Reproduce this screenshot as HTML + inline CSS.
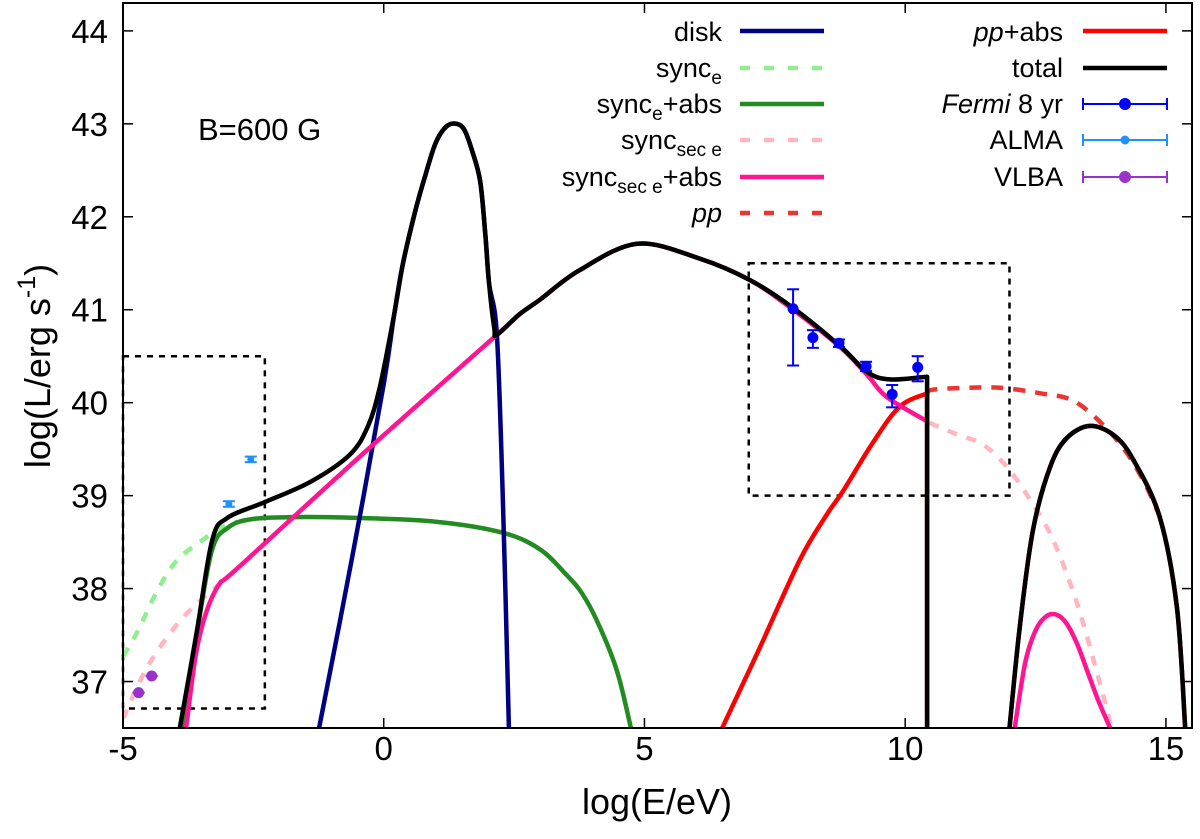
<!DOCTYPE html>
<html><head><meta charset="utf-8"><style>
html,body{margin:0;padding:0;background:#fff;}
svg{display:block;font-family:"Liberation Sans",Arial,sans-serif;}
</style></head><body>
<svg id="chart" width="1200" height="839" viewBox="0 0 1200 839" xmlns="http://www.w3.org/2000/svg" style="position:absolute;left:0;top:0">
<g id="grid"></g>
<g id="series"></g>
<g id="points"></g>
<g id="axes"></g>
</svg>
<script>
const xTicks=[-5,0,5,10,15];
const yTicks=[37,38,39,40,41,42,43,44];
const diskX=[-1.24,-0.6,0,0.2,0.37,0.6,0.81,1.0,1.2,1.4,1.55,1.7,1.85,1.95,2.02,2.17,2.29,2.40];
const diskY=[36.5,38.35,40.2,40.95,41.5,42.05,42.47,42.8,42.97,43.0,42.93,42.7,42.38,41.8,41.28,40.73,38.87,36.5];
const syncEX=[-5,-4.73,-4.33,-3.97,-3.53,-3.14,-2.8];
const syncEY=[37.27,37.53,37.99,38.3,38.5,38.65,38.72];
const syncEAbsX=[-3.85,-3.6,-3.3,-3.0,-2.5,-1.5,-0.5,1.0,2.29,3.0,3.5,3.8,4.1,4.47,4.74];
const syncEAbsY=[36.5,37.45,38.4,38.65,38.75,38.77,38.76,38.72,38.6,38.42,38.15,37.95,37.64,37.12,36.5];
const syncSecX=[-5,-4.54,-3.97,-3.5,-3.15,-2.8,-0.4,2.17,2.6,3.0,3.74,4.86,6.06,7.02,7.85,8.75,9.27,9.65,10.42,10.99,11.49,11.95,12.39,12.83,13.29,13.73,13.96];
const syncSecY=[36.6,37.15,37.61,37.88,38.05,38.22,39.45,40.73,40.95,41.11,41.42,41.71,41.55,41.32,41.0,40.6,40.3,40.06,39.8,39.66,39.55,39.31,38.96,38.53,37.85,36.99,36.5];
const syncSecAbsX=[-3.79,-3.6,-3.4,-3.15,-2.8,-0.4,2.17,2.6,3.0,3.74,4.86,6.06,7.02,7.85,8.75,9.27,9.65,10.42];
const syncSecAbsY=[36.5,37.3,37.75,38.05,38.22,39.45,40.73,40.95,41.11,41.42,41.71,41.55,41.32,41.0,40.6,40.3,40.06,39.8];
const syncSecAbs2X=[12.1,12.3,12.5,12.7,12.9,13.1,13.3,13.5,13.7,13.93];
const syncSecAbs2Y=[36.5,37.2,37.55,37.7,37.72,37.62,37.4,37.1,36.8,36.5];
const ppX=[10.42,10.53,11.2,11.82,12.6,13.29,14.06,14.56,14.9];
const ppY=[40.1,40.14,40.16,40.16,40.1,40.0,39.6,39.17,38.75];
const ppAbsX=[6.49,7.2,7.98,8.5,8.81,9.38,9.9,10.42,10.42];
const ppAbsY=[36.5,37.35,38.31,38.8,39.05,39.57,39.96,40.1,36.5];
const humpX=[12.0,12.2,12.45,12.78,13.1,13.54,14.0,14.37,14.88,15.21,15.37];
const humpY=[36.5,37.6,38.63,39.31,39.62,39.75,39.65,39.39,38.77,37.8,36.5];
const totalX=[-3.91,-3.58,-3.29,-3.0,-2.28,-1.4,-0.65,-0.3,-0.07,0.2,0.37,0.6,0.81,1.0,1.2,1.4,1.55,1.7,1.85,1.95,2.02,2.12,2.17,2.6,3.0,3.74,4.86,6.06,7.02,7.85,8.75,9.27,9.71,10.42,10.42];
const totalY=[36.5,37.55,38.52,38.76,38.93,39.15,39.44,39.75,40.18,40.95,41.5,42.05,42.47,42.8,42.97,43.0,42.93,42.7,42.38,41.8,41.28,40.8,40.73,40.95,41.11,41.42,41.71,41.55,41.32,41.02,40.61,40.33,40.25,40.28,36.5];
const fermiX=[7.85,8.23,8.73,9.25,9.75,10.24];
const fermiY=[41.01,40.7,40.64,40.39,40.09,40.38];
const fermiLo=[40.4,40.59,40.6,40.34,39.95,40.23];
const fermiHi=[41.22,40.78,40.68,40.44,40.19,40.5];
const almaX=[-2.97,-2.55];
const almaY=[38.91,39.39];
const vlbaX=[-4.7,-4.45];
const vlbaY=[36.88,37.06];

const X0=123,X1=1192,Y0=728,Y1=3;
const xMin=-5,xMax=15.5,yMin=36.5,yMax=44.3;
const sx=v=>X0+(v-xMin)*(X1-X0)/(xMax-xMin);
const sy=v=>Y0-(v-yMin)*(Y0-Y1)/(yMax-yMin);
const NS='http://www.w3.org/2000/svg';
function mk(tag,parent,attrs){const e=document.createElementNS(NS,tag);for(const k in attrs)e.setAttribute(k,attrs[k]);parent.appendChild(e);return e;}
const gS=document.getElementById('series'),gP=document.getElementById('points'),gA=document.getElementById('axes'),gG=document.getElementById('grid');
function smoothPath(xs,ys){
  const P=xs.map((x,i)=>[sx(x),sy(ys[i])]);
  let d='M'+P[0][0].toFixed(1)+','+P[0][1].toFixed(1);
  for(let i=0;i<P.length-1;i++){
    const p1=P[i],p2=P[i+1];
    if(Math.abs(p1[0]-p2[0])<0.5){d+=' L'+p2[0].toFixed(1)+','+p2[1].toFixed(1);continue;}
    let p0=P[i-1]||p1,p3=P[i+2]||p2;
    if(Math.abs(p0[0]-p1[0])<0.5)p0=p1;
    if(Math.abs(p3[0]-p2[0])<0.5)p3=p2;
    const t=6;
    const c1=[p1[0]+(p2[0]-p0[0])/t,p1[1]+(p2[1]-p0[1])/t];
    const c2=[p2[0]-(p3[0]-p1[0])/t,p2[1]-(p3[1]-p1[1])/t];
    d+=' C'+c1[0].toFixed(1)+','+c1[1].toFixed(1)+' '+c2[0].toFixed(1)+','+c2[1].toFixed(1)+' '+p2[0].toFixed(1)+','+p2[1].toFixed(1);
  }
  return d;
}
function curve(xs,ys,color,dash,name,w){
  const p=mk('path',gS,{d:smoothPath(xs,ys),fill:'none',stroke:color,'stroke-width':w||4.5,'stroke-linejoin':'round','stroke-dasharray':dash||'none'});
  
  
}
const cp=mk('clipPath',gS,{id:'pc'});mk('rect',cp,{x:X0,y:Y1,width:X1-X0,height:Y0-Y1});
gS.setAttribute('clip-path','url(#pc)');
const b1=mk('rect',gG,{x:sx(-5),y:sy(40.5),width:sx(-2.28)-sx(-5),height:sy(36.71)-sy(40.5),fill:'none',stroke:'#000','stroke-width':2.5,'stroke-dasharray':'6,6'});


const b2=mk('rect',gG,{x:sx(7),y:sy(41.5),width:sx(12)-sx(7),height:sy(39)-sy(41.5),fill:'none',stroke:'#000','stroke-width':2.5,'stroke-dasharray':'6,6'});



curve(syncEX,syncEY,'#90ee90','10,10','sync-e-curve');
curve(syncSecX,syncSecY,'#ffb6c1','10,10','sync-sec-e-curve');
curve(ppX,ppY,'#ee3333','12,10','pp-curve');
curve(syncEAbsX,syncEAbsY,'#228b22',null,'sync-e-abs-curve');
curve(diskX,diskY,'#000080',null,'disk-curve');
curve(ppAbsX,ppAbsY,'#ff0000',null,'pp-abs-curve');
curve(humpX,humpY,'#ff0000',null,'pp-abs-hump-curve');
curve(syncSecAbsX,syncSecAbsY,'#ff1493',null,'sync-sec-e-abs-curve');
curve(syncSecAbs2X,syncSecAbs2Y,'#ff1493',null,'sync-sec-e-abs-hump-curve');
curve(totalX,totalY,'#000',null,'total-curve');
curve(humpX,humpY,'#000',null,'total-hump-curve');

function errPts(xs,ys,lo,hi,color,r,name){
  xs.forEach((x,i)=>{
    const g=mk('g',gP,{});
    
    
    const X=sx(x);
    mk('line',g,{x1:X,x2:X,y1:sy(lo[i]),y2:sy(hi[i]),stroke:color,'stroke-width':2});
    mk('line',g,{x1:X-6,x2:X+6,y1:sy(lo[i]),y2:sy(lo[i]),stroke:color,'stroke-width':2});
    mk('line',g,{x1:X-6,x2:X+6,y1:sy(hi[i]),y2:sy(hi[i]),stroke:color,'stroke-width':2});
    mk('circle',g,{cx:X,cy:sy(ys[i]),r:r,fill:color});
  });
}
errPts(fermiX,fermiY,fermiLo,fermiHi,'#0000ff',5.5,'fermi-point');
errPts(almaX,almaY,almaY.map(v=>v-0.03),almaY.map(v=>v+0.03),'#1e90ff',3.5,'alma-point');
errPts(vlbaX,vlbaY,vlbaY,vlbaY,'#9932cc',5.5,'vlba-point');

const fr=mk('rect',gA,{x:X0,y:Y1,width:X1-X0,height:Y0-Y1,fill:'none',stroke:'#000','stroke-width':2});


xTicks.forEach(v=>{
  const X=sx(v);
  mk('line',gA,{x1:X,x2:X,y1:Y0,y2:Y0-10,stroke:'#000','stroke-width':1.5});
  mk('line',gA,{x1:X,x2:X,y1:Y1,y2:Y1+10,stroke:'#000','stroke-width':1.5});
  const t=mk('text',gA,{x:X,y:760,'font-size':33,'text-anchor':'middle'});
  t.textContent=v;
  
  
});
yTicks.forEach(v=>{
  const Y=sy(v);
  mk('line',gA,{x1:X0,x2:X0+10,y1:Y,y2:Y,stroke:'#000','stroke-width':1.5});
  mk('line',gA,{x1:X1,x2:X1-10,y1:Y,y2:Y,stroke:'#000','stroke-width':1.5});
  const t=mk('text',gA,{x:108,y:Y+12,'font-size':33,'text-anchor':'end'});
  t.textContent=v;
  
  
});
</script>
<svg style="position:absolute;left:0;top:0" width="1200" height="839" xmlns="http://www.w3.org/2000/svg">
<g font-family="Liberation Sans, Arial, sans-serif" fill="#000">
<text x="657" y="814" font-size="36" text-anchor="middle">log(E/eV)</text>
<text transform="translate(50,366) rotate(-90)" font-size="36" text-anchor="middle">log(L/erg s<tspan dy="-15" font-size="25">-1</tspan><tspan dy="15">)</tspan></text>
<text x="198" y="140" font-size="31">B=600 G</text>
<g font-size="27" text-anchor="end">
<text x="722" y="41">disk</text>
<text x="722" y="77">sync<tspan font-size="19" dy="7">e</tspan></text>
<text x="722" y="113">sync<tspan font-size="19" dy="7">e</tspan><tspan dy="-7">+abs</tspan></text>
<text x="722" y="149">sync<tspan font-size="19" dy="7">sec e</tspan></text>
<text x="722" y="186">sync<tspan font-size="19" dy="7">sec e</tspan><tspan dy="-7">+abs</tspan></text>
<text x="722" y="222" font-style="italic">pp</text>
<text x="1063" y="41"><tspan font-style="italic">pp</tspan>+abs</text>
<text x="1063" y="77">total</text>
<text x="1063" y="113"><tspan font-style="italic">Fermi</tspan> 8 yr</text>
<text x="1063" y="149">ALMA</text>
<text x="1063" y="186">VLBA</text>
</g>
<g stroke-width="4.5">
<line x1="740" x2="824" y1="31" y2="31" stroke="#000080"/>
<line x1="740" x2="824" y1="68" y2="68" stroke="#90ee90" stroke-dasharray="10,14"/>
<line x1="740" x2="824" y1="104" y2="104" stroke="#228b22"/>
<line x1="740" x2="824" y1="140" y2="140" stroke="#ffb6c1" stroke-dasharray="10,14"/>
<line x1="740" x2="824" y1="177" y2="177" stroke="#ff1493"/>
<line x1="740" x2="824" y1="213" y2="213" stroke="#ee3333" stroke-dasharray="10,14"/>
<line x1="1083" x2="1167" y1="31" y2="31" stroke="#ff0000"/>
<line x1="1083" x2="1167" y1="68" y2="68" stroke="#000"/>
</g>
<g stroke="#0000ff" stroke-width="2"><line x1="1083" x2="1167" y1="104" y2="104"/><line x1="1083" x2="1083" y1="98" y2="110"/><line x1="1167" x2="1167" y1="98" y2="110"/><circle cx="1125" cy="104" r="5" fill="#0000ff"/></g>
<g stroke="#1e90ff" stroke-width="2"><line x1="1083" x2="1167" y1="140" y2="140"/><line x1="1083" x2="1083" y1="134" y2="146"/><line x1="1167" x2="1167" y1="134" y2="146"/><circle cx="1125" cy="140" r="3.5" fill="#1e90ff"/></g>
<g stroke="#9932cc" stroke-width="2"><line x1="1083" x2="1167" y1="177" y2="177"/><line x1="1083" x2="1083" y1="171" y2="183"/><line x1="1167" x2="1167" y1="171" y2="183"/><circle cx="1125" cy="177" r="5" fill="#9932cc"/></g>
</g>
</svg>
</body></html>
